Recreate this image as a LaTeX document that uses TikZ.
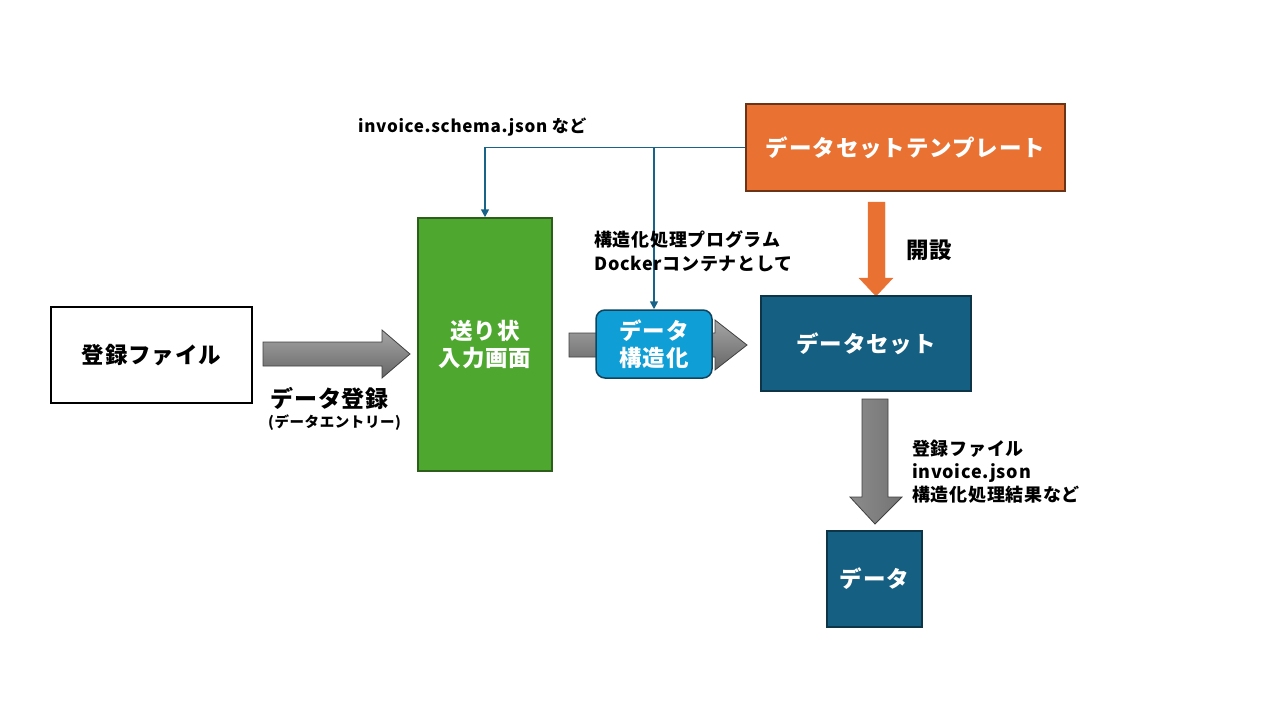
\documentclass[tikz,border=0pt]{standalone}
\usepackage{fontspec}
\setmainfont{Noto Sans CJK JP}[LetterSpace=4]
\usetikzlibrary{arrows.meta}
\definecolor{gboxfill}{HTML}{4EA72E}
\definecolor{gboxline}{HTML}{2E5E1C}
\definecolor{bboxfill}{HTML}{0F9ED5}
\definecolor{bboxline}{HTML}{12435C}
\definecolor{dsfill}{HTML}{156082}
\definecolor{dsline}{HTML}{0C3548}
\definecolor{orfill}{HTML}{E97132}
\definecolor{orline}{HTML}{6B3416}
\definecolor{conn}{HTML}{1A6388}
\tikzset{
  boxbase/.style={inner sep=0pt, align=center, font=\fontsize{22.5}{27}\selectfont\bfseries, line width=1.5pt},
  whitebox/.style={boxbase, draw=black, fill=white},
  greenbox/.style={boxbase, draw=gboxline, fill=gboxfill, text=white},
  bluebox/.style={boxbase, draw=bboxline, fill=bboxfill, text=white, rounded corners=9pt},
  dsbox/.style={boxbase, draw=dsline, fill=dsfill, text=white},
  orbox/.style={boxbase, draw=orline, fill=orfill, text=white},
  conline/.style={draw=conn, line width=1.6pt, -{Triangle[length=8pt,width=8pt]}},
  grayarrowh/.style={draw=black!75, line width=0.8pt, top color=black!35, bottom color=black!60},
  grayarrowv/.style={draw=black!75, line width=0.8pt, left color=black!45, right color=black!55},
  label/.style={inner sep=0pt, font=\fontsize{17}{23}\selectfont\bfseries, align=left},
}
\begin{document}
\begin{tikzpicture}[x=1pt,y=-1pt]
\useasboundingbox (0,0) rectangle (1280,720);

% block arrows
\path[grayarrowh] (263,342)--(382,342)--(382,330)--(410,354)--(382,378)--(382,366)--(263,366)--cycle;
\path[grayarrowh] (569,333)--(715,333)--(715,320)--(747,345)--(715,370)--(715,357)--(569,357)--cycle;
\path[draw=orfill, fill=orfill] (868,202)--(885,202)--(885,278)--(893,278)--(876,296)--(859,278)--(868,278)--cycle;
\path[grayarrowv] (862,399)--(888,399)--(888,497)--(902,497)--(875,524)--(850,497)--(862,497)--cycle;

% boxes
\node[whitebox, minimum width=201pt, minimum height=96pt] (file) at (151.5,355) {登録ファイル};
\node[greenbox, minimum width=134pt, minimum height=253pt] (input) at (485,344.5) {送り状\\入力画面};
\node[bluebox, minimum width=116pt, minimum height=68pt] (struct) at (654,344) {データ\\構造化};
\node[dsbox, minimum width=210pt, minimum height=95pt] (ds) at (866,343.5) {データセット};
\node[orbox, minimum width=319pt, minimum height=87pt] (tmpl) at (905.5,147.5) {データセットテンプレート};
\node[dsbox, minimum width=95pt, minimum height=96pt] (data) at (874.5,579) {データ};

% connectors
\coordinate (j) at (struct.north |- tmpl.west);
\draw[conline] (tmpl.west) -| (input.north);
\draw[conline] (j) -- (struct.north);

% labels
\node[label, anchor=west] (schema) at (358,127) {invoice.schema.json など};
\node[label, anchor=north west, font=\fontsize{18}{24}\selectfont\bfseries] (prog) at (594,230) {構造化処理プログラム\\Dockerコンテナとして};
\node[label, anchor=west, font=\fontsize{22.5}{26}\selectfont\bfseries] (kaisetsu) at (906,250) {開設};
\node[label, anchor=west, font=\fontsize{23}{26}\selectfont\bfseries] (entry) at (270,398) {データ登録};
\node[label, anchor=west, font=\fontsize{14.5}{16}\selectfont\bfseries] (entry2) at (268,423) {(データエントリー)};
\node[label, anchor=north west, font=\fontsize{18}{23}\selectfont\bfseries] (res) at (912,440) {登録ファイル\\invoice.json\\構造化処理結果など};
\end{tikzpicture}
\end{document}
